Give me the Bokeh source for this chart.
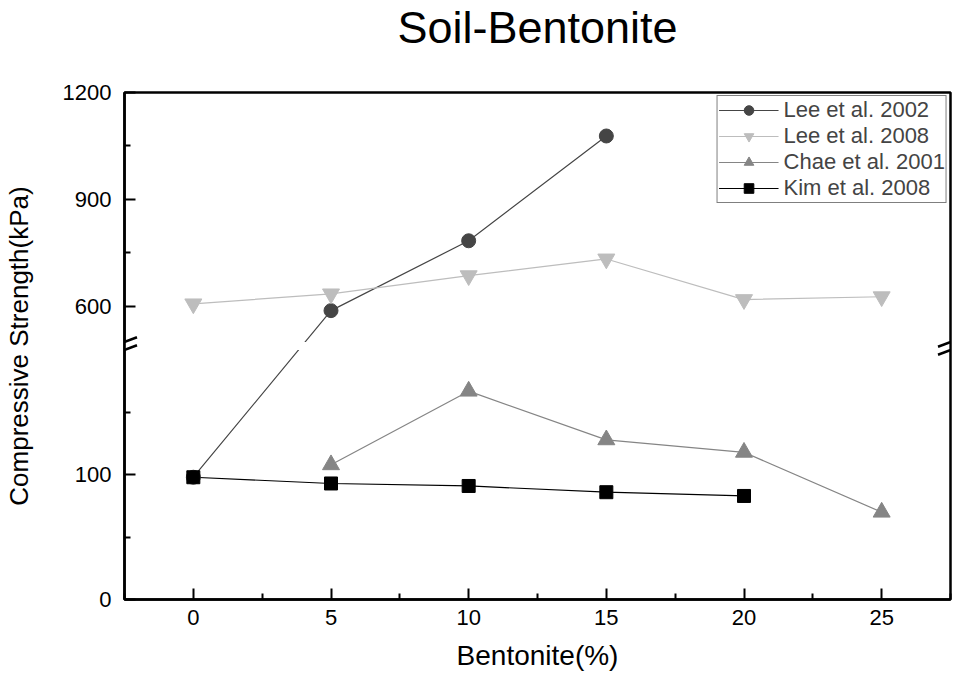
from bokeh.plotting import figure
from bokeh.models import (Range1d, FixedTicker, CustomJSTransform, CustomJSTickFormatter,
                          BoxAnnotation, Arrow, Legend, LegendItem, Title)
from bokeh.transform import transform
from bokeh.embed import file_html
from bokeh.resources import INLINE

# ---- data -------------------------------------------------------------
lee2002_x = [0, 5, 10, 15]
lee2002 = [98, 588, 784, 1078]

lee2008_x = [0, 5, 10, 15, 20, 25]
lee2008 = [607, 635, 686, 733, 619, 627]

chae2001_x = [5, 10, 15, 20, 25]
chae2001 = [108, 167, 128, 118, 70]

kim2008_x = [0, 5, 10, 15, 20]
kim2008 = [98, 93, 91, 86, 83]

x_major = [0, 5, 10, 15, 20, 25]
x_minor = [-2.5, 2.5, 7.5, 12.5, 17.5, 22.5, 27.5]
y_major = [0, 100, 600, 900, 1200]
y_minor = [50, 150, 750, 1050]

# ---- broken y axis: 0-200 below the break, 500-1200 compressed above ----
LOW_TOP = 200.0
HIGH_BOT = 500.0
HIGH_TOP = 1200.0
GAP = 6.4
HIGH_SCALE = 200.0 / 700.0


def to_axis(v):
    return v if v <= LOW_TOP else LOW_TOP + GAP + (v - HIGH_BOT) * HIGH_SCALE


brk_args = dict(lo=LOW_TOP, hb=HIGH_BOT, gap=GAP, s=HIGH_SCALE)
brk = CustomJSTransform(
    args=brk_args,
    func="return x <= lo ? x : lo + gap + (x - hb) * s;",
    v_func="""
        const out = new Float64Array(xs.length);
        for (let i = 0; i < xs.length; i++) {
            const v = xs[i];
            out[i] = v <= lo ? v : lo + gap + (v - hb) * s;
        }
        return out;
    """,
)

X_LO, X_HI = -2.5, 27.5
Y_TOP = to_axis(HIGH_TOP)
FRAME_W, FRAME_H = 826.0, 508.0
FONT = "Liberation Sans"

p = figure(width=959, height=673, title=None,
           x_range=Range1d(X_LO, X_HI), y_range=Range1d(0, Y_TOP),
           output_backend="svg", toolbar_location=None,
           min_border_left=124, min_border_right=9,
           min_border_top=92, min_border_bottom=73)

p.background_fill_color = "white"
p.border_fill_color = "white"
p.xgrid.visible = False
p.ygrid.visible = False
p.outline_line_color = "black"
p.outline_line_width = 2.5
p.outline_line_alpha = 1.0

# empty spacer between the frame and the heading, then the heading itself
p.add_layout(Title(text=" ", text_font_size="12px", standoff=22), "above")
p.add_layout(Title(text="Soil-Bentonite", text_font=FONT, text_font_size="45px",
                   text_font_style="normal", text_color="black", align="center",
                   vertical_align="top", offset=7, standoff=0), "above")

# pixel -> data unit factors of the plotting frame
px_x = (X_HI - X_LO) / FRAME_W
px_y = Y_TOP / FRAME_H

# x axis
p.xaxis.ticker = FixedTicker(ticks=x_major, minor_ticks=x_minor)
p.xaxis.axis_label = "Bentonite(%)"
# y axis
p.yaxis.ticker = FixedTicker(ticks=[to_axis(v) for v in y_major],
                             minor_ticks=[to_axis(v) for v in y_minor])
p.yaxis.formatter = CustomJSTickFormatter(
    args=brk_args,
    code="const v = tick <= lo + 0.5 * gap ? tick : hb + (tick - lo - gap) / s;"
         "return Math.round(v).toString();")
p.yaxis.axis_label = "Compressive Strength(kPa)"

for ax in (p.xaxis[0], p.yaxis[0]):
    ax.axis_line_width = 2.5
    ax.axis_line_color = "black"
    ax.major_tick_in = 11
    ax.major_tick_out = 0
    ax.minor_tick_in = 6
    ax.minor_tick_out = 0
    ax.major_tick_line_width = 2
    ax.minor_tick_line_width = 2
    ax.major_tick_line_color = "black"
    ax.minor_tick_line_color = "black"
    ax.major_label_text_font = FONT
    ax.major_label_text_font_size = "22px"
    ax.major_label_text_color = "black"
    ax.axis_label_text_font = FONT
    ax.axis_label_text_font_style = "normal"
    ax.axis_label_text_color = "black"

p.xaxis.major_label_standoff = 10
p.xaxis.axis_label_text_font_size = "28px"
p.xaxis.axis_label_standoff = 12
p.yaxis.major_label_standoff = 13
p.yaxis.axis_label_text_font_size = "26px"
p.yaxis.axis_label_standoff = 26

# ---- series -------------------------------------------------------------
series = [
    ("Lee et al. 2002", lee2002_x, lee2002, "circle", 14, "#454545"),
    ("Lee et al. 2008", lee2008_x, lee2008, "inverted_triangle", 17, "#bdbdbd"),
    ("Chae et al. 2001", chae2001_x, chae2001, "triangle", 17, "#858585"),
    ("Kim et al. 2008", kim2008_x, kim2008, "square", 13, "#000000"),
]

line_rs = []
for name, xs, ys, marker, size, color in series:
    src = dict(x=xs, strength=ys)
    lr = p.line(x="x", y=transform("strength", brk), source=src,
                line_color=color, line_width=1.2)
    line_rs.append(lr)

# white band that interrupts lines crossing the break
p.add_layout(BoxAnnotation(bottom=LOW_TOP, top=LOW_TOP + GAP, left=-2.45, right=27.45,
                           fill_color="white", fill_alpha=1.0, line_alpha=0))

items = []
for (name, xs, ys, marker, size, color), lr in zip(series, line_rs):
    src = dict(x=xs, strength=ys)
    sr = p.scatter(x="x", y=transform("strength", brk), source=src, marker=marker,
                   size=size, fill_color=color, line_color=color)
    items.append(LegendItem(label=name, renderers=[lr, sr]))

# break marks on both vertical axes
mid = LOW_TOP + GAP / 2
for x0 in (X_LO, X_HI):
    for dy in (-4.0, 4.0):
        p.add_layout(Arrow(start=None, end=None,
                           x_start=x0 - 12.5 * px_x, y_start=mid + (dy - 4.75) * px_y,
                           x_end=x0 + 12.5 * px_x, y_end=mid + (dy + 4.75) * px_y,
                           line_color="black", line_width=2.5))

legend = Legend(items=items, location="top_right", margin=3, padding=1, spacing=0,
                glyph_width=60, glyph_height=24, label_height=20, label_standoff=5,
                label_text_font=FONT, label_text_font_size="22px",
                border_line_color="black", border_line_width=1,
                background_fill_color="white", background_fill_alpha=1.0)
p.add_layout(legend)

open("out.html", "w").write(file_html(p, INLINE))
